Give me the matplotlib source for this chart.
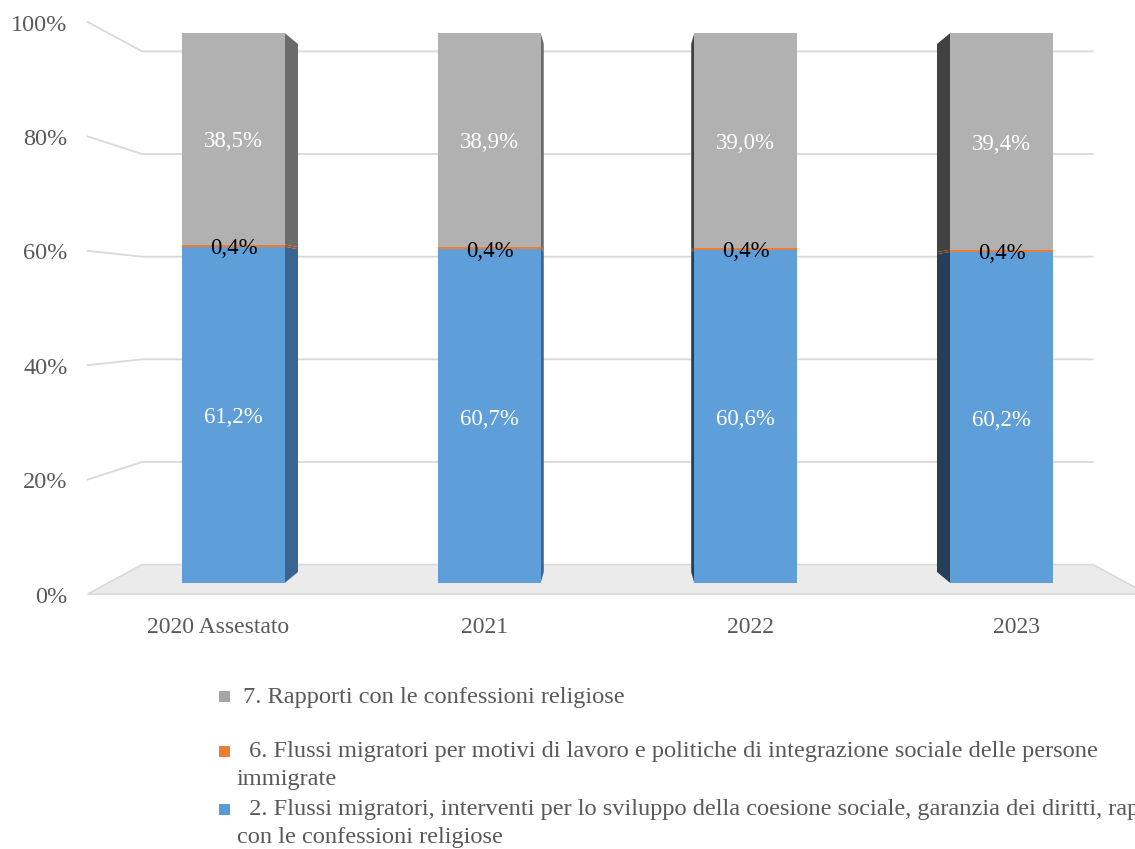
import matplotlib
matplotlib.use("Agg")
from matplotlib import pyplot as plt
from matplotlib.patches import Rectangle

plt.rcParams['font.family'] = ['Liberation Serif', 'DejaVu Serif']

# data
categories = ['2020 Assestato', '2021', '2022', '2023']
blue_vals = [61.2, 60.7, 60.6, 60.2]
orange_vals = [0.4, 0.4, 0.4, 0.4]
gray_vals = [38.5, 38.9, 39.0, 39.4]
yticks = [0, 20, 40, 60, 80, 100]
legend_labels = [
    ['7. Rapporti con le confessioni religiose'],
    [' 6. Flussi migratori per motivi di lavoro e politiche di integrazione sociale delle persone',
     'immigrate'],
    [' 2. Flussi migratori, interventi per lo sviluppo della coesione sociale, garanzia dei diritti, rapporti',
     'con le confessioni religiose'],
]

front_cols = {'gray': '#b1b1b1', 'orange': '#ed7d31', 'blue': '#5f9fd9'}
side_right = {'gray': '#6b6b6b', 'orange': '#a0522a', 'blue': '#3a6590'}
side_left = {'gray': '#414141', 'orange': '#6b3a1e', 'blue': '#253f59'}
legend_cols = ['#a5a5a5', '#ed7d31', '#5b9bd5']
txt_col = '#595959'
grid_col = '#d9d9d9'

# fake 3d: simple perspective towards the middle of the plot
VX, VY = 1.5, 50.0
K_FRONT, K_BAR, K_WALL = 1.04, 0.96, 0.933
BAR_W = 0.4
X0, X1 = -0.49, 3.49


def proj(x, y, k):
    return VX + (x - VX) * k, VY + (y - VY) * k


fig = plt.figure(figsize=(11.35, 8.49), dpi=100)
ax = fig.add_axes([0, 0, 1, 1])
ax.set_xlim(-0.912, 3.5215)
ax.set_ylim(-48.36, 106.0)
ax.axis('off')

# floor
pts = [proj(X0, 0, K_FRONT), proj(X1, 0, K_FRONT), proj(X1, 0, K_WALL), proj(X0, 0, K_WALL)]
ax.fill([p[0] for p in pts], [p[1] for p in pts], facecolor='#ebebeb', edgecolor=grid_col,
        lw=1.2, zorder=1)

# gridlines: left wall + back wall
for v in yticks:
    a = proj(X0, v, K_FRONT)
    b = proj(X0, v, K_WALL)
    c = proj(X1, v, K_WALL)
    if v > 0:
        ax.plot([a[0], b[0], c[0]], [a[1], b[1], c[1]], color=grid_col, lw=1.3, zorder=2)
    ax.annotate(f'{v}%', xy=a, xytext=(-20, -3), textcoords='offset pixels',
                ha='right', va='center', fontsize=17.5, color=txt_col)

# bars
n = len(categories)
totals = [blue_vals[i] + orange_vals[i] + gray_vals[i] for i in range(n)]
for i in range(n):
    segs = [('blue', blue_vals[i]), ('orange', orange_vals[i]), ('gray', gray_vals[i])]
    bottom = 0.0
    for name, val in segs:
        h = val / totals[i] * 100
        top = bottom + h
        if i < VX:
            xe, sc = i + BAR_W / 2, side_right
        else:
            xe, sc = i - BAR_W / 2, side_left
        s = [proj(xe, bottom, 1.0), proj(xe, top, 1.0), proj(xe, top, K_BAR), proj(xe, bottom, K_BAR)]
        ax.fill([p[0] for p in s], [p[1] for p in s], color=sc[name], lw=0, zorder=3)
        ax.bar(i, h, bottom=bottom, width=BAR_W, color=front_cols[name], lw=0, zorder=4)
        lab_col = 'black' if name == 'orange' else 'white'
        ax.annotate(f'{val:.1f}%'.replace('.', ','), xy=(i, bottom + h / 2), xytext=(0, -3),
                    textcoords='offset pixels', ha='center', va='center',
                    fontsize=16.5, color=lab_col, zorder=5)
        bottom = top
    lx, _ = proj(i, 0, K_FRONT)
    ax.text(lx, -8.1, categories[i], ha='center', va='center', fontsize=17, color=txt_col)

# legend, laid out by hand like the original
W, H = 1135.0, 849.0
ys = [697, 752, 810]
for lines, col, y in zip(legend_labels, legend_cols, ys):
    fig.patches.append(Rectangle((219 / W, 1 - (y + 5) / H), 11 / W, 11 / H,
                                 transform=fig.transFigure, facecolor=col, lw=0))
    for j, line in enumerate(lines):
        x = 243 if j == 0 else 237
        fig.text(x / W, 1 - (y + 28 * j) / H, line, ha='left', va='center',
                 fontsize=17.6, color=txt_col)

fig.savefig('out.png', dpi=100)
